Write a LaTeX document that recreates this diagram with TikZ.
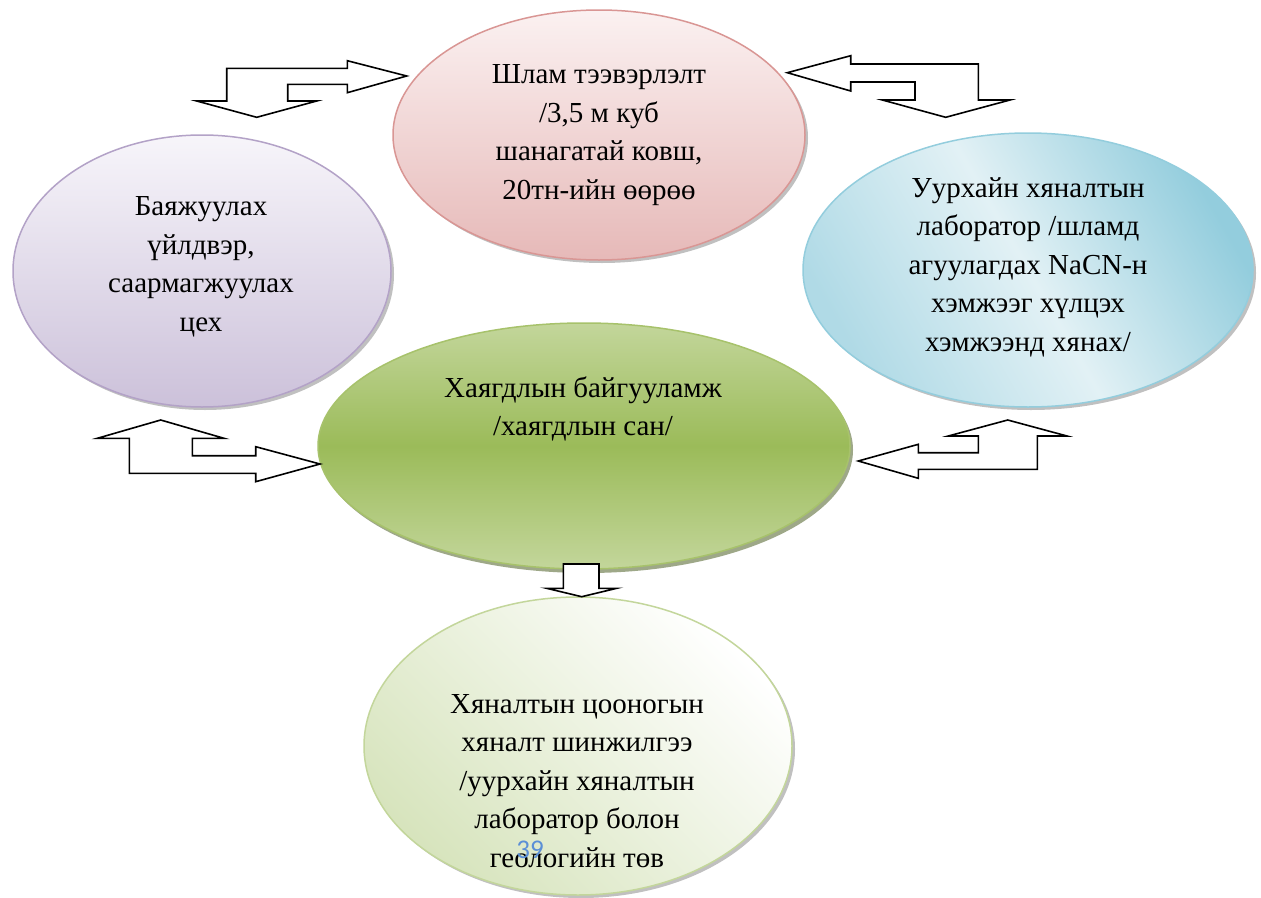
\documentclass[tikz,border=0pt]{standalone}
\usepackage{fontspec}
\setmainfont{Liberation Serif}
\newfontfamily\numfont{Carlito}
\usetikzlibrary{shapes.geometric,shadows}
\definecolor{pinkB}{HTML}{D99694}
\definecolor{pinkT}{HTML}{FBF1F1}
\definecolor{pinkD}{HTML}{E6B9B8}
\definecolor{purB}{HTML}{B3A2C7}
\definecolor{purT}{HTML}{F7F5FA}
\definecolor{purD}{HTML}{CCC1DA}
\definecolor{bluB}{HTML}{93CDDD}
\definecolor{bluL}{HTML}{E2F1F5}
\definecolor{bluE}{HTML}{B0DAE6}
\definecolor{bluD}{HTML}{93CDDD}
\definecolor{grnB}{HTML}{A7C26B}
\definecolor{grnL}{HTML}{C3D69B}
\definecolor{grnM}{HTML}{9BBB59}
\definecolor{grnS}{HTML}{4F6228}
\definecolor{lgrB}{HTML}{C3D69B}
\definecolor{lgrD}{HTML}{D7E4BD}
\definecolor{numC}{HTML}{5B8FD6}
\begin{document}
\begin{tikzpicture}[x=1pt,y=-1pt,
  blob/.style={ellipse, inner sep=0pt, line width=1.5pt},
  shad/.style={drop shadow={shadow xshift=3pt,shadow yshift=-3pt,opacity=0.35,fill=black!70}},
  txt/.style={align=center, font=\fontsize{29}{38.5}\selectfont, inner sep=0pt, text=black},
  barrow/.style={draw=black, fill=white, line width=1.6pt, line join=miter}]
\useasboundingbox (0,0) rectangle (1261,897);
\fill[white] (0,0) rectangle (1261,897);

% ellipses
\node[blob, shad, draw=pinkB, top color=pinkT, bottom color=pinkD,
  minimum width=412pt, minimum height=250pt] (pink) at (599,135) {};
\node[blob, shad, draw=purB, top color=purT, bottom color=purD,
  minimum width=378pt, minimum height=272pt] (purple) at (202,271) {};
\node[blob, shad, draw=bluB, left color=bluE, right color=bluD, middle color=bluL, shading angle=120,
  minimum width=450pt, minimum height=274pt] (blue) at (1028,270) {};
\node[blob, drop shadow={shadow xshift=3pt,shadow yshift=-4pt,opacity=0.55,fill=grnS},
  draw=grnB, top color=grnL, bottom color=grnL, middle color=grnM,
  minimum width=532pt, minimum height=246pt] (green) at (584,446) {};
\node[blob, shad, draw=lgrB, top color=white, bottom color=lgrD, shading angle=-45,
  minimum width=428pt, minimum height=298pt] (lgreen) at (578,746) {};

% texts
\node[txt] (tpink) at (599,135) {Шлам тээвэрлэлт\\/3,5 м куб\\шанагатай ковш,\\20тн-ийн өөрөө};
\node[txt] (tpurple) at (201,267) {Баяжуулах\\үйлдвэр,\\саармагжуулах\\цех};
\node[txt] (tblue) at (1028,267) {Уурхайн хяналтын\\лаборатор /шламд\\агуулагдах NaCN-н\\хэмжээг хүлцэх\\хэмжээнд хянах/};
\node[txt] (tgreen) at (583,409) {Хаягдлын байгууламж\\/хаягдлын сан/};
\node[txt] (tlgreen) at (577,781) {Хяналтын цооногын\\хяналт шинжилгээ\\/уурхайн хяналтын\\лаборатор болон\\геологийн төв};

% block arrows
\draw[barrow] (256.7,117.3) -- (196.7,101) -- (226.7,101) -- (226.7,68.3) -- (347.3,68.3) -- (347.3,60.7) -- (406.7,76) -- (347.3,92.7) -- (347.3,84.3) -- (287.7,84.3) -- (287.7,101) -- (316.7,101) -- cycle;
\draw[barrow] (787.3,72.7) -- (850.7,55.7) -- (850.7,64) -- (978.3,64) -- (978.3,100) -- (1010,100) -- (945.7,117.3) -- (882.3,100) -- (915,100) -- (915,82) -- (850.7,82) -- (850.7,91) -- cycle;
\draw[barrow] (160.7,420) -- (97.3,438.3) -- (129.3,438.3) -- (129.3,473.3) -- (255.7,473.3) -- (255.7,481.7) -- (320,464) -- (255.7,446.7) -- (255.7,455.7) -- (192.3,455.7) -- (192.3,438.3) -- (224,438.3) -- cycle;
\draw[barrow] (1007.7,420) -- (948.3,436) -- (978.3,436) -- (978.3,452.7) -- (918.3,452.7) -- (918.3,444.3) -- (858.3,461) -- (918.3,478.3) -- (918.3,469.3) -- (1037.3,469.3) -- (1037.3,436) -- (1067,436) -- cycle;
\draw[barrow] (563.3,564) -- (599,564) -- (599,588.3) -- (616.7,588.3) -- (581.7,596.7) -- (546.7,588.3) -- (563.3,588.3) -- cycle;

% page number
\node[font=\numfont\fontsize{27}{32}\selectfont, text=numC, inner sep=0pt] (pg) at (530,850) {39};
\end{tikzpicture}
\end{document}
